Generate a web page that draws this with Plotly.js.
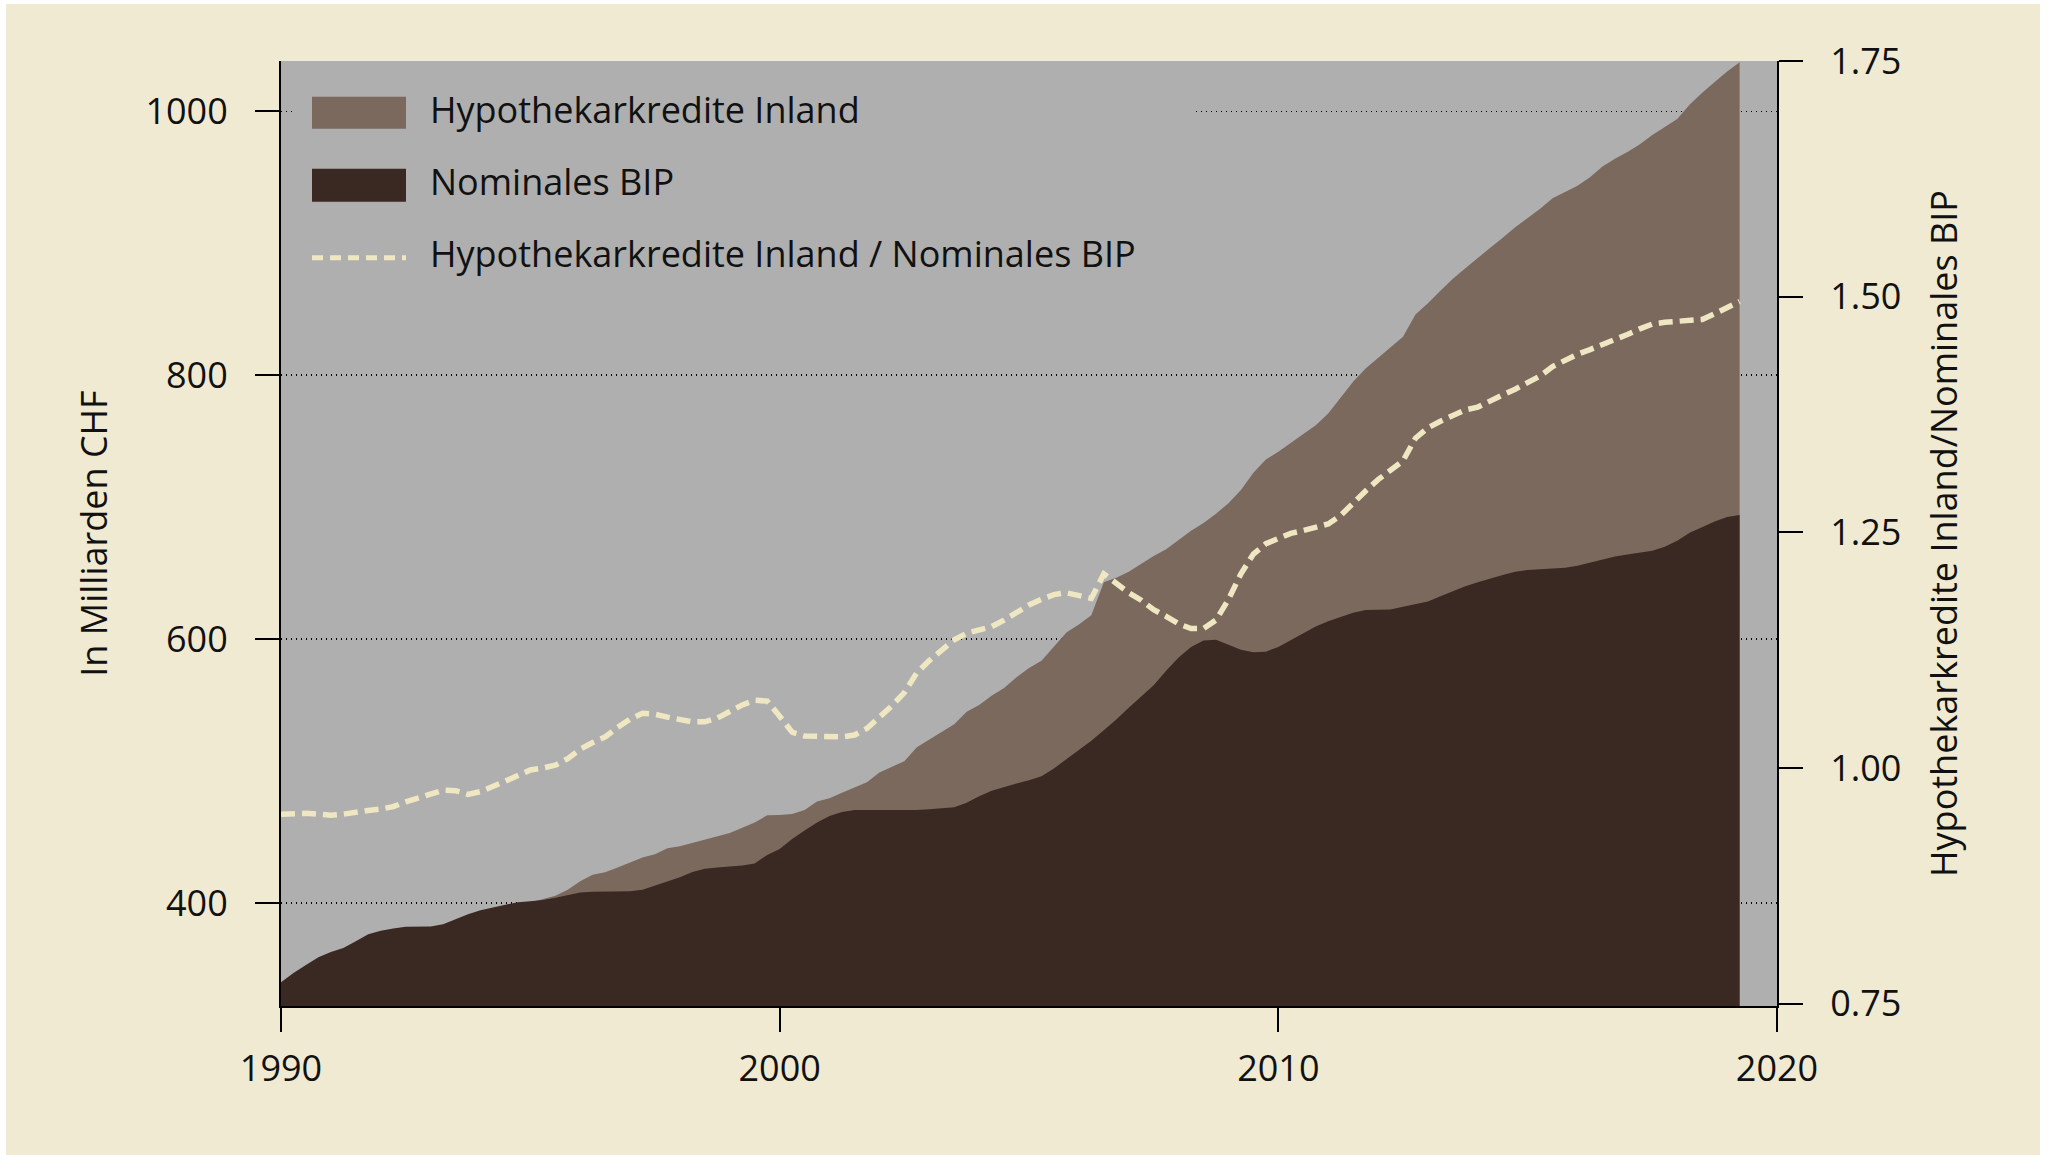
<!DOCTYPE html>
<html>
<head>
<meta charset="utf-8">
<script src="https://cdn.plot.ly/plotly-3.0.1.min.js"></script>
<style>
html, body { margin: 0; padding: 0; background: #ffffff; }
#chart { width: 2049px; height: 1159px; }
</style>
</head>
<body>
<div id="chart"></div>
<script>
// ---------- data (quarterly, starting 1990 Q1) ----------
const startYear = 1990;

const seriesNames = [
  'Hypothekarkredite Inland',
  'Nominales BIP',
  'Hypothekarkredite Inland / Nominales BIP'
];

// Nominales BIP, Mrd. CHF
const gdp = [
  340, 347, 353, 359,
  363, 366, 371, 376.3,
  379, 380.8, 382, 382,
  382.3, 384, 388, 391.5,
  394.5, 396.7, 399, 400.7,
  401.3, 402.3, 404, 406,
  408, 408.5, 408.7, 408.8,
  409, 410, 413, 416.5,
  419.5, 423.5, 426, 427,
  427.5, 428.5, 430, 436.5,
  441, 448.5, 455, 461,
  466, 469, 470.5, 470.5,
  470, 470, 470.5, 470.5,
  471, 471.5, 472.5, 476,
  481, 485, 488, 490.5,
  493, 496, 502, 509,
  516, 523, 531, 539,
  548, 556.5, 565, 576,
  586, 594, 599, 599.5,
  596, 592, 590, 590.5,
  594, 599, 604, 609.5,
  613.5, 617, 620, 622,
  622.3, 622.5, 624.5, 626.5,
  628.5, 632.5, 636.5, 640,
  643, 646, 648.5, 651,
  652.3, 653, 653.5, 654,
  655.5, 658, 660.4, 662.5,
  664, 665.5, 667, 670,
  674.5, 680.5, 685, 689,
  692.5, 694
];

// Hypothekarkredite Inland, Mrd. CHF
const mortgage = [
  323.3, 330.3, 336.1, 341.4,
  344.9, 348.1, 353.7, 359.4,
  362.5, 365.2, 368.2, 369.8,
  371.8, 375.0, 378.7, 380.5,
  384.6, 388.8, 393.4, 397.5,
  400.5, 403, 405.5, 410,
  416.5, 421.5, 423.3, 427,
  431, 434.5, 437, 441.5,
  443, 445.5, 448, 450.5,
  453, 457, 461, 466.5,
  466.7, 467.5, 470.5, 477,
  479.5, 483.5, 487.5, 491.5,
  499, 503, 507.5, 518,
  524, 530, 535.5, 545,
  550, 557, 563, 571,
  578, 583.5, 594, 605,
  611, 618, 643, 646.5,
  651, 657, 663, 668,
  675, 682, 688, 695,
  703, 713, 726, 736,
  742, 748.5, 755, 762,
  771, 783, 795, 805,
  813, 821, 829, 846,
  854.5, 864, 873, 881,
  889, 896.5, 904, 912,
  919, 926, 934, 938.5,
  943.5, 950, 958, 964,
  969, 975, 982, 988,
  994, 1005, 1014, 1022,
  1030, 1037
];

// Hypothekarkredite Inland / Nominales BIP
const ratio = [
  0.951, 0.952, 0.952, 0.951,
  0.950, 0.951, 0.9535, 0.955,
  0.9565, 0.959, 0.964, 0.968,
  0.9725, 0.9765, 0.976, 0.972,
  0.975, 0.980, 0.986, 0.992,
  0.998, 1.000, 1.003, 1.010,
  1.020, 1.027, 1.033, 1.043,
  1.052, 1.058, 1.057, 1.054,
  1.052, 1.049, 1.049, 1.053,
  1.060, 1.067, 1.072, 1.071,
  1.055, 1.038, 1.034, 1.034,
  1.033, 1.033, 1.035, 1.042,
  1.054, 1.066, 1.080, 1.101,
  1.114, 1.125, 1.136, 1.143,
  1.147, 1.150, 1.157, 1.165,
  1.173, 1.179, 1.184, 1.186,
  1.183, 1.180, 1.206, 1.196,
  1.186, 1.178, 1.168, 1.161,
  1.153, 1.148, 1.148, 1.157,
  1.179, 1.206, 1.227, 1.238,
  1.243, 1.249, 1.252, 1.255,
  1.259, 1.268, 1.282, 1.294,
  1.306, 1.316, 1.326, 1.350,
  1.361, 1.368, 1.3745, 1.380,
  1.383, 1.390, 1.396, 1.402,
  1.409, 1.416, 1.426, 1.433,
  1.439, 1.444, 1.449, 1.454,
  1.460, 1.466, 1.471, 1.473,
  1.474, 1.475, 1.476, 1.482,
  1.488, 1.495
];

const xTicks = [1990, 2000, 2010, 2020];
const yTicks = [400, 600, 800, 1000];
const y2Ticks = [0.75, 1.00, 1.25, 1.50, 1.75];
const yTitle = 'In Milliarden CHF';
const y2Title = 'Hypothekarkredite Inland/Nominales BIP';

// time index (quarter starts)
const quarters = gdp.map((_, i) => startYear + i * 0.25);

// ---------- styling ----------
const C_PAGE = '#f0ead2';
const C_PLOT = '#afafaf';
const C_MORT = '#7b695e';
const C_GDP = '#3a2922';
const C_RATIO = '#efe7c2';
const C_TEXT = '#111111';
const FONT = '"Open Sans", Lato, sans-serif';
const FS = 36;

// plot-area pixel frame
const L = 281, R = 1777, T = 61, B = 1006;
const PW = R - L, PH = B - T;
const px = X => (X - L) / PW;
const py = Y => (B - Y) / PH;

const traces = [
  {
    x: quarters, y: mortgage, name: seriesNames[0],
    type: 'scatter', mode: 'lines', fill: 'tozeroy',
    fillcolor: C_MORT, line: { width: 0, color: C_MORT },
    hoverinfo: 'skip', showlegend: false
  },
  {
    x: quarters, y: gdp, name: seriesNames[1],
    type: 'scatter', mode: 'lines', fill: 'tozeroy',
    fillcolor: C_GDP, line: { width: 0, color: C_GDP },
    hoverinfo: 'skip', showlegend: false
  },
  {
    x: quarters, y: ratio, name: seriesNames[2], yaxis: 'y2',
    type: 'scatter', mode: 'lines',
    line: { width: 5.5, color: C_RATIO, dash: '14px,7px' },
    hoverinfo: 'skip', showlegend: false
  }
];

const tickFont = { family: FONT, size: FS, color: C_TEXT };

const shapes = [
  // page background (beige panel with thin white border)
  { type: 'rect', xref: 'paper', yref: 'paper', layer: 'below',
    x0: px(6), x1: px(2040), y0: py(1155), y1: py(4),
    fillcolor: C_PAGE, line: { width: 0 } },
  // plot background
  { type: 'rect', xref: 'paper', yref: 'paper', layer: 'below',
    x0: 0, x1: 1, y0: 0, y1: 1,
    fillcolor: C_PLOT, line: { width: 0 } },
  // legend box
  { type: 'rect', xref: 'paper', yref: 'paper', layer: 'above',
    x0: px(295), x1: px(1193), y0: py(290), y1: py(70),
    fillcolor: C_PLOT, line: { width: 0 } },
  // legend swatches
  { type: 'rect', xref: 'paper', yref: 'paper', layer: 'above',
    x0: px(312), x1: px(406), y0: py(128.7), y1: py(96.7),
    fillcolor: C_MORT, line: { width: 0 } },
  { type: 'rect', xref: 'paper', yref: 'paper', layer: 'above',
    x0: px(312), x1: px(406), y0: py(201.7), y1: py(168.7),
    fillcolor: C_GDP, line: { width: 0 } },
  { type: 'line', xref: 'paper', yref: 'paper', layer: 'above',
    x0: px(312), x1: px(406), y0: py(257.7), y1: py(257.7),
    line: { width: 5, color: C_RATIO, dash: '11px,7px' } }
];

const legendY = [109, 181.5, 254];
const annotations = seriesNames.map((name, i) => ({
  text: name, xref: 'paper', yref: 'paper',
  x: px(428), y: py(legendY[i]), xanchor: 'left', yanchor: 'middle',
  showarrow: false, font: { family: FONT, size: FS, color: C_TEXT }
}));

const layout = {
  width: 2049, height: 1159,
  margin: { l: L, r: 2049 - R, t: T, b: 1159 - B, pad: 0 },
  paper_bgcolor: '#ffffff',
  plot_bgcolor: 'rgba(0,0,0,0)',
  showlegend: false,
  font: { family: FONT, size: FS, color: C_TEXT },
  xaxis: {
    range: [1990, 2020], tickvals: xTicks, ticktext: xTicks.map(String),
    ticks: 'outside', ticklen: 24, tickwidth: 2, tickcolor: '#000',
    showline: true, linewidth: 2, linecolor: '#000',
    showgrid: false, zeroline: false, tickfont: tickFont,
    ticklabelstandoff: 6, fixedrange: true
  },
  yaxis: {
    range: [322, 1038], tickvals: yTicks, ticktext: yTicks.map(String),
    ticks: 'outside', ticklen: 24, tickwidth: 2, tickcolor: '#000',
    showline: true, linewidth: 2, linecolor: '#000',
    showgrid: true, gridcolor: '#000000', gridwidth: 1.3, griddash: '1.3px,3.7px',
    zeroline: false, tickfont: tickFont, ticklabelstandoff: 20,
    title: { text: yTitle, font: tickFont, standoff: 27 }, fixedrange: true
  },
  yaxis2: {
    overlaying: 'y', side: 'right', anchor: 'x',
    range: [0.7475, 1.7502], tickvals: y2Ticks, ticktext: y2Ticks.map(v => v.toFixed(2)),
    ticks: 'outside', ticklen: 24, tickwidth: 2, tickcolor: '#000',
    showline: true, linewidth: 2, linecolor: '#000',
    showgrid: false, zeroline: false, tickfont: tickFont, ticklabelstandoff: 20,
    title: { text: y2Title, font: tickFont, standoff: 31 }, fixedrange: true
  },
  shapes: shapes,
  annotations: annotations
};

Plotly.newPlot('chart', traces, layout, { staticPlot: true, displayModeBar: false });
</script>
</body>
</html>
